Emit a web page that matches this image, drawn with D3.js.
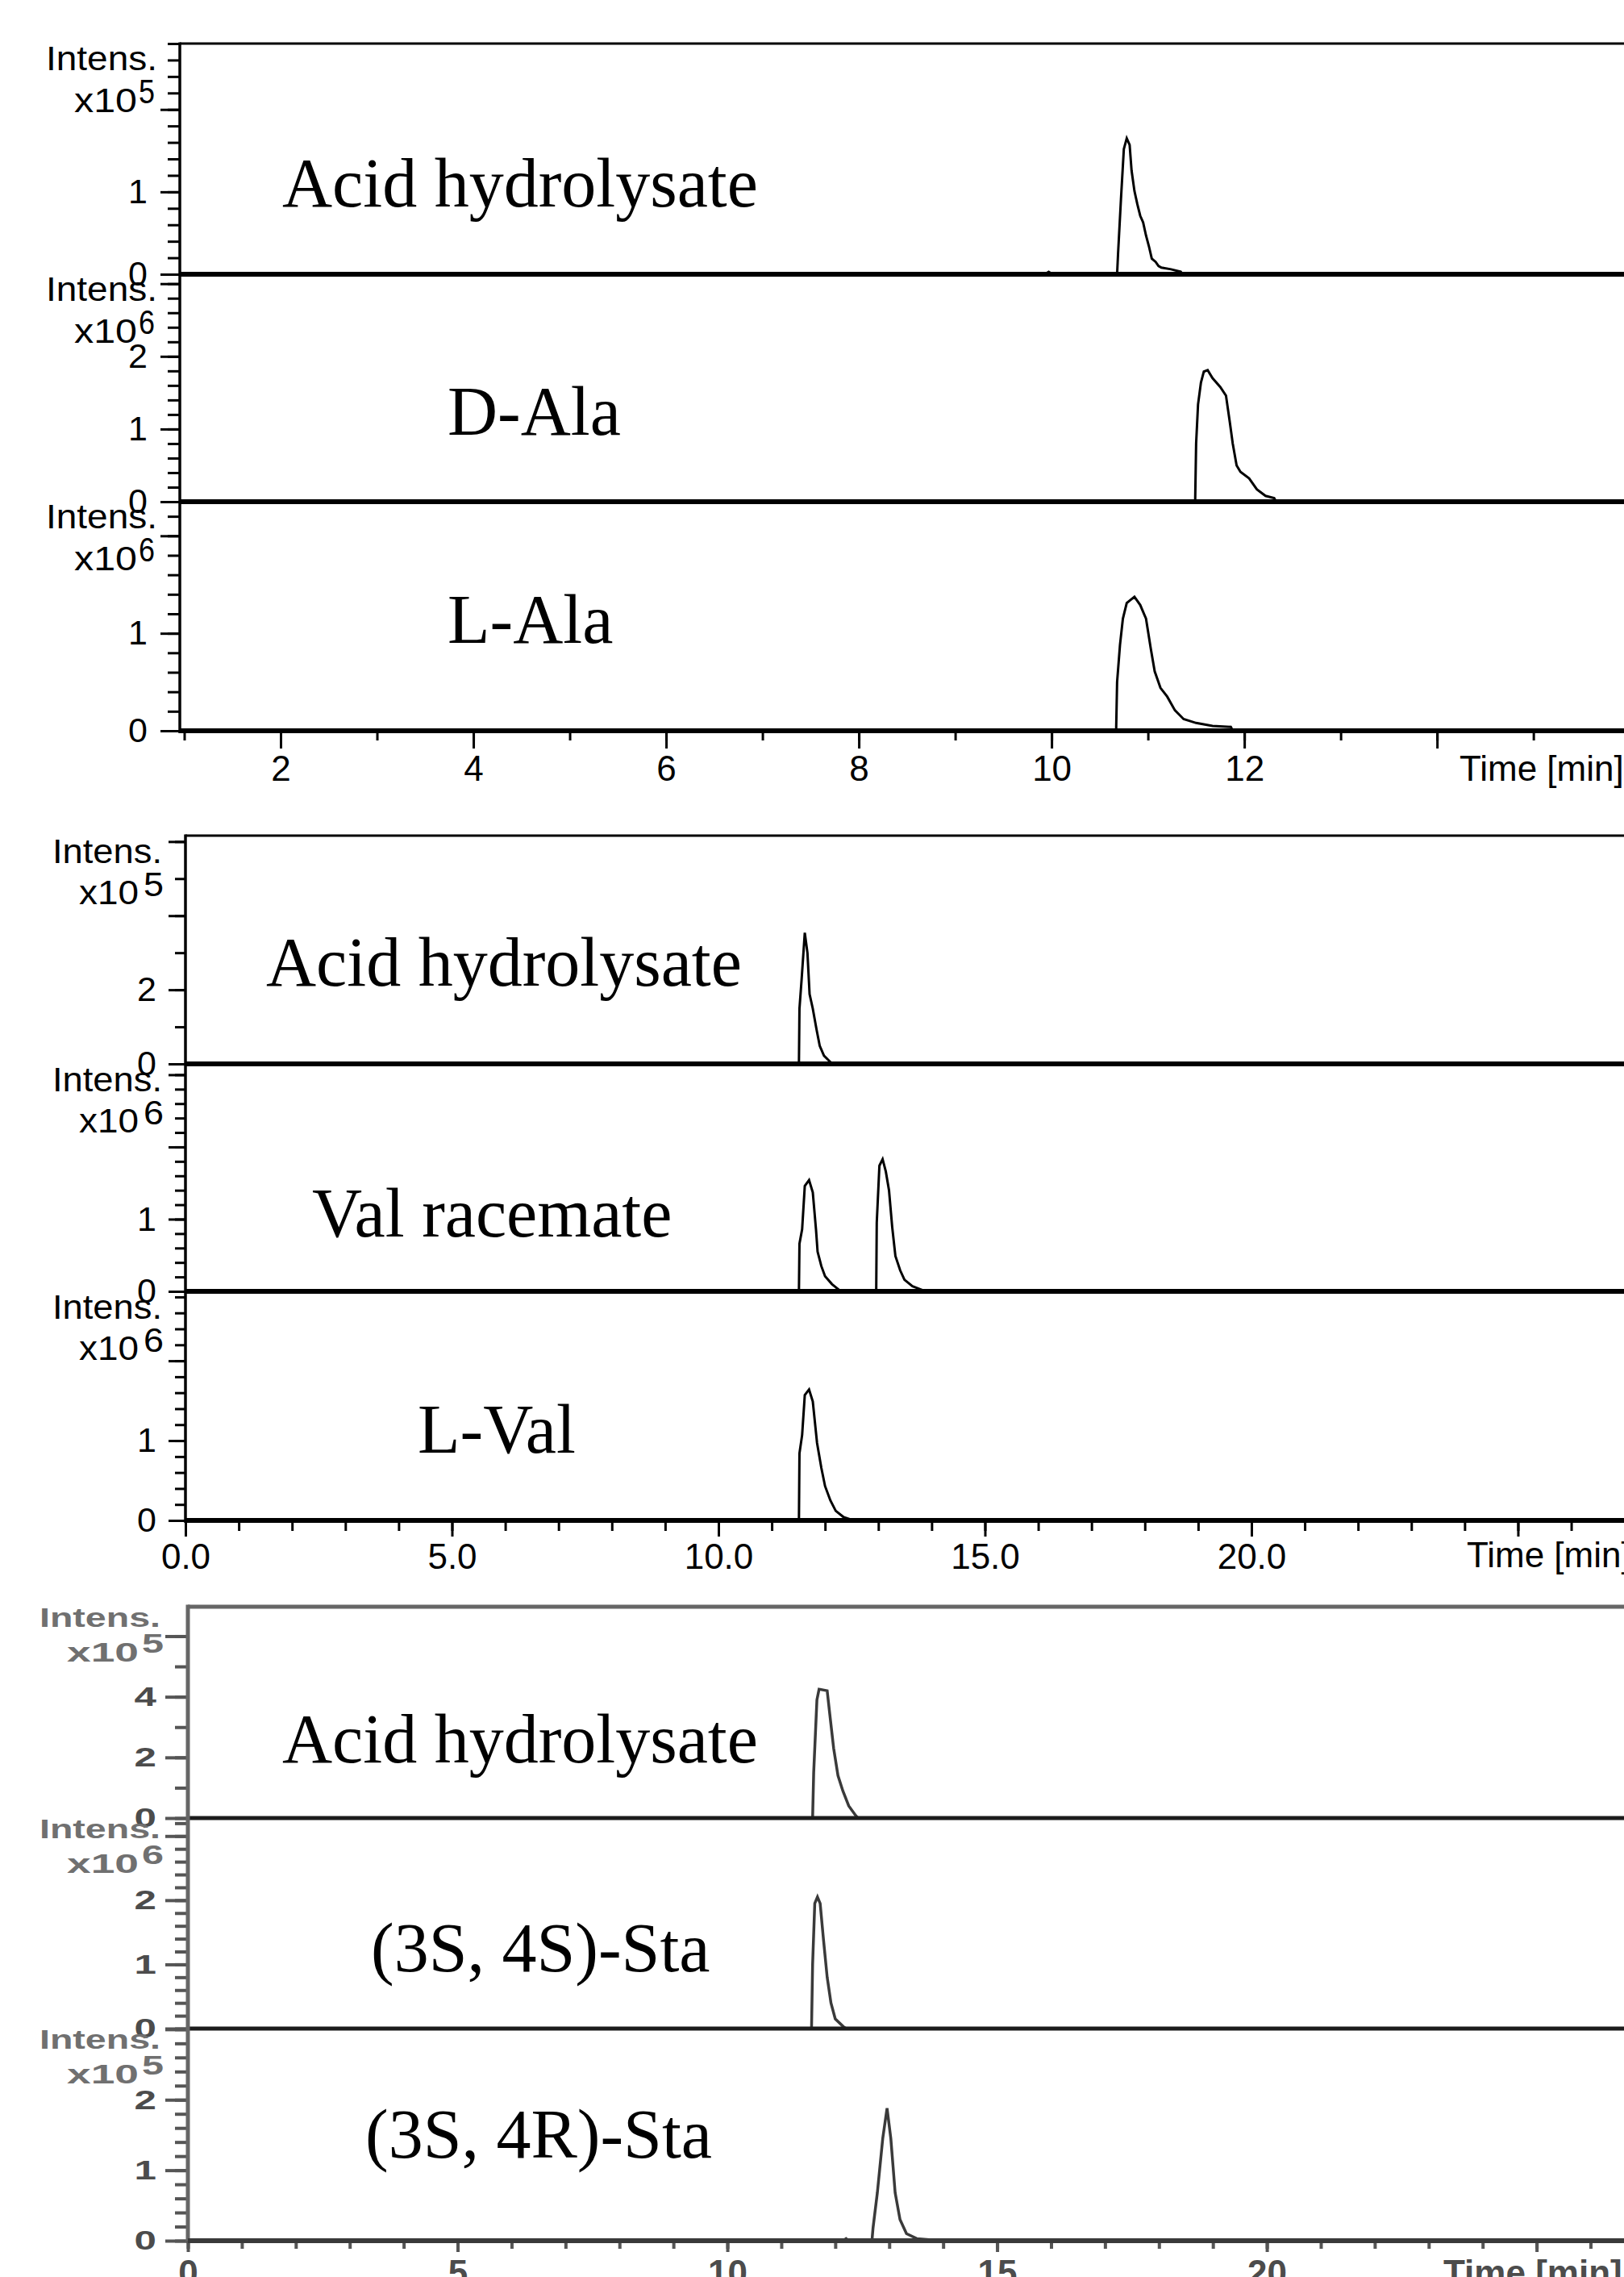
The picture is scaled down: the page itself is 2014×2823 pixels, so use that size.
<!DOCTYPE html>
<html><head><meta charset="utf-8">
<script src="https://cdn.jsdelivr.net/npm/d3@7"></script>
<style>
html,body{margin:0;padding:0;background:#fff;}
svg{display:block;}
</style></head><body>
<script>
// ================= DATA =================
const sampleNames = [
  ["Acid hydrolysate", "D-Ala", "L-Ala"],
  ["Acid hydrolysate", "Val racemate", "L-Val"],
  ["Acid hydrolysate", "(3S, 4S)-Sta", "(3S, 4R)-Sta"]
];
const intensityExponents = [[5, 6, 6], [5, 6, 6], [5, 6, 5]];
const yDomainMax = [[2.80, 3.13, 2.35], [6.16, 3.15, 2.87], [6.97, 3.28, 3.01]];
const yMajorStep = [[1, 1, 1], [2, 1, 1], [2, 1, 1]];
const yMinorStep = [[0.2, 0.2, 0.2], [1, 0.2, 0.2], [1, 0.2, 0.2]];
const yTickLabels = [[[0, 1], [0, 1, 2], [0, 1]], [[0, 2], [0, 1], [0, 1]], [[0, 2, 4], [0, 1, 2], [0, 1, 2]]];
const xDomains = [[0.954, 15.94], [0, 26.99], [0, 26.62]];
const xMajorTicks = [[2, 4, 6, 8, 10, 12, 14], [0, 5, 10, 15, 20, 25], [0, 5, 10, 15, 20, 25]];
const xTickLabels = [["2", "4", "6", "8", "10", "12", ""], ["0.0", "5.0", "10.0", "15.0", "20.0", ""], ["0", "5", "10", "15", "20", ""]];
const xAxisTitle = "Time [min]";
const yAxisTitle = "Intens.";

// time [min], intensity (in units of 10^exponent)
const alaAcid = [[0.954,0],[9.93,0],[9.97,0.03],[10.01,0],[10.68,0],[10.69,0.25],[10.72,0.91],[10.75,1.52],[10.78,1.65],[10.81,1.57],[10.83,1.26],[10.86,1.01],[10.89,0.85],[10.92,0.71],[10.95,0.63],[10.98,0.47],[11.01,0.34],[11.04,0.19],[11.08,0.15],[11.11,0.10],[11.14,0.08],[11.24,0.06],[11.34,0.03],[11.36,0],[15.94,0]];
const dAla = [[0.954,0],[11.49,0],[11.50,0.80],[11.52,1.34],[11.55,1.64],[11.58,1.79],[11.62,1.81],[11.67,1.70],[11.75,1.58],[11.81,1.46],[11.85,1.09],[11.88,0.80],[11.92,0.50],[11.96,0.41],[12.05,0.32],[12.13,0.17],[12.22,0.08],[12.31,0.05],[12.33,0],[15.94,0]];
const lAla = [[0.954,0],[10.67,0],[10.68,0.50],[10.71,0.88],[10.74,1.15],[10.78,1.31],[10.86,1.375],[10.92,1.29],[10.98,1.15],[11.03,0.84],[11.07,0.61],[11.13,0.44],[11.20,0.35],[11.28,0.21],[11.37,0.12],[11.50,0.08],[11.67,0.05],[11.86,0.04],[11.88,0],[15.94,0]];
const valAcid = [[0,0],[11.51,0],[11.52,1.49],[11.56,2.27],[11.62,3.54],[11.67,2.99],[11.71,1.88],[11.77,1.49],[11.84,0.93],[11.90,0.49],[11.98,0.22],[12.10,0.05],[12.15,0],[26.99,0]];
const valRacemate = [[0,0],[11.51,0],[11.52,0.66],[11.57,0.86],[11.62,1.46],[11.70,1.54],[11.77,1.37],[11.83,0.86],[11.86,0.55],[11.93,0.35],[12.00,0.21],[12.13,0.10],[12.28,0.01],[12.96,0],[12.97,0.95],[13.02,1.74],[13.08,1.83],[13.14,1.66],[13.20,1.40],[13.26,0.89],[13.32,0.49],[13.41,0.29],[13.49,0.16],[13.64,0.07],[13.82,0.02],[13.85,0],[26.99,0]];
const lVal = [[0,0],[11.51,0],[11.52,0.84],[11.57,1.07],[11.62,1.57],[11.70,1.64],[11.77,1.49],[11.85,0.97],[11.93,0.66],[12.00,0.43],[12.10,0.25],[12.20,0.12],[12.35,0.04],[12.53,0],[26.99,0]];
const staAcid = [[0,0],[11.58,0],[11.60,1.5],[11.66,3.9],[11.70,4.25],[11.85,4.2],[11.90,3.4],[11.97,2.3],[12.05,1.4],[12.14,0.9],[12.25,0.4],[12.38,0.08],[12.42,0],[26.62,0]];
const sta3S4S = [[0,0],[11.56,0],[11.58,1.0],[11.62,1.95],[11.67,2.05],[11.72,1.95],[11.78,1.4],[11.85,0.8],[11.92,0.4],[12.00,0.15],[12.15,0.03],[12.20,0],[26.62,0]];
const sta3S4R = [[0,0],[12.15,0],[12.20,0.03],[12.25,0],[12.68,0],[12.70,0.18],[12.78,0.68],[12.88,1.45],[12.96,1.88],[13.03,1.45],[13.11,0.68],[13.20,0.30],[13.32,0.10],[13.51,0.03],[13.83,0.01],[13.90,0],[26.62,0]];

const series = [[alaAcid, dAla, lAla], [valAcid, valRacemate, lVal], [staAcid, sta3S4S, sta3S4R]];

// ================= LAYOUT / STYLE =================
const W = 2014, H = 2823;
const layout = [
  {left:223, top:54, bases:[340,622,906], labelPos:[[350,256],[555,539],[555,797]], titleX:1810, titleDy:62,
   xMajorLen:22, xMinorLen:12, xPad:9, yMajorLen:24, yMinorLen:15, yPad:16,
   intens:[-166,138,33], x10:[-131,78,85], exp:[-51,20,74], font:43, bold:false, yScaleX:1},
  {left:230, top:1036, bases:[1319,1601,1885], labelPos:[[330,1222],[387,1533],[518,1801]], titleX:1819, titleDy:58,
   xMajorLen:20, xMinorLen:13, xPad:9, yMajorLen:21, yMinorLen:13, yPad:15,
   intens:[-165,136,34], x10:[-132,74,85], exp:[-52,25,75], font:43, bold:false, yScaleX:1},
  {left:233, top:1992, bases:[2254,2515,2778], labelPos:[[350,2185],[460,2444],[453,2675]], titleX:1790, titleDy:55,
   xMajorLen:14, xMinorLen:10, xPad:10, yMajorLen:28, yMinorLen:16, yPad:11,
   intens:[-184,150,25], x10:[-150,89,68], exp:[-57,27,57], font:34, bold:true, yScaleX:1.45}
];
const styles = [
  {frame:"#000", frameW:3, axisW:3.5, base:"#000", baseW:6, bottom:"#000", bottomW:6, tick:"#000", tickW:3, text:"#000", tickText:"#000", line:"#000", lineW:3},
  {frame:"#000", frameW:3, axisW:3.5, base:"#000", baseW:6, bottom:"#000", bottomW:6, tick:"#000", tickW:3, text:"#000", tickText:"#000", line:"#000", lineW:3},
  {frame:"#666", frameW:5, axisW:5, base:"#1c1c1c", baseW:5, bottom:"#3a3a3a", bottomW:6, tick:"#555", tickW:4, text:"#707070", tickText:"#4c4c4c", line:"#3a3a3a", lineW:3.5}
];
const sansFont = "'Liberation Sans', Arial, sans-serif";
const serifFont = "'Liberation Serif', 'Times New Roman', serif";

const svg = d3.select("body").append("svg")
  .attr("width", W).attr("height", H)
  .attr("viewBox", `0 0 ${W} ${H}`);
svg.append("rect").attr("width", W).attr("height", H).attr("fill", "#fff");

function rng(max, step) {
  const n = Math.floor(max / step + 1e-6);
  return d3.range(0, n + 1).map(i => +(i * step).toFixed(6));
}

layout.forEach((L, p) => {
  const st = styles[p];
  const g = svg.append("g").attr("class", "panel");
  const x = d3.scaleLinear().domain(xDomains[p]).range([L.left, W]);
  const fw = L.bold ? "bold" : "normal";

  for (let s = 0; s < 3; s++) {
    const topY = s === 0 ? L.top : L.bases[s - 1];
    const baseY = L.bases[s];
    const y = d3.scaleLinear().domain([0, yDomainMax[p][s]]).range([baseY, topY]);
    const sg = g.append("g");

    // minor y ticks
    sg.append("g").attr("transform", `translate(${L.left},0)`)
      .call(d3.axisLeft(y).tickValues(rng(yDomainMax[p][s], yMinorStep[p][s])).tickSize(L.yMinorLen).tickFormat(""))
      .call(a => a.select(".domain").remove())
      .call(a => a.selectAll("line").attr("stroke", st.tick).attr("stroke-width", st.tickW));

    // major y ticks + labels
    const labs = yTickLabels[p][s];
    const ya = sg.append("g").attr("transform", `translate(${L.left},0)`)
      .call(d3.axisLeft(y).tickValues(rng(yDomainMax[p][s], yMajorStep[p][s])).tickSize(L.yMajorLen)
        .tickPadding(L.yPad).tickFormat(d => labs.includes(d) ? String(d) : ""))
      .call(a => a.select(".domain").remove());
    ya.selectAll("line").attr("stroke", st.tick).attr("stroke-width", st.tickW);
    ya.selectAll("text").attr("fill", st.tickText).attr("font-family", sansFont)
      .attr("font-size", L.font).attr("font-weight", fw);
    if (L.yScaleX !== 1) {
      ya.selectAll("text").attr("x", -(L.yMajorLen + L.yPad) / L.yScaleX)
        .attr("transform", `scale(${L.yScaleX},1)`);
    }

    // chromatogram trace
    const line = d3.line().x(d => x(d[0])).y(d => y(d[1]));
    sg.append("path").datum(series[p][s]).attr("d", line)
      .attr("fill", "none").attr("stroke", st.line).attr("stroke-width", st.lineW)
      .attr("stroke-linejoin", "miter");

    // sample label
    sg.append("text").attr("x", L.labelPos[s][0]).attr("y", L.labelPos[s][1])
      .attr("font-family", serifFont).attr("font-size", 86).attr("fill", "#000")
      .text(sampleNames[p][s]);

    // y-axis title "Intens." and x10^n
    sg.append("text").attr("x", L.left + L.intens[0]).attr("y", topY + L.intens[2])
      .attr("textLength", L.intens[1]).attr("lengthAdjust", "spacingAndGlyphs")
      .attr("font-family", sansFont).attr("font-size", L.font).attr("font-weight", fw)
      .attr("fill", st.text).text(yAxisTitle);
    sg.append("text").attr("x", L.left + L.x10[0]).attr("y", topY + L.x10[2])
      .attr("textLength", L.x10[1]).attr("lengthAdjust", "spacingAndGlyphs")
      .attr("font-family", sansFont).attr("font-size", L.font).attr("font-weight", fw)
      .attr("fill", st.text).text("x10");
    sg.append("text").attr("x", L.left + L.exp[0]).attr("y", topY + L.exp[2])
      .attr("textLength", L.exp[1]).attr("lengthAdjust", "spacingAndGlyphs")
      .attr("font-family", sansFont).attr("font-size", L.font).attr("font-weight", fw)
      .attr("fill", st.text).text(String(intensityExponents[p][s]));

    // baseline / separator
    if (s < 2) {
      sg.append("line").attr("x1", L.left).attr("x2", W).attr("y1", baseY).attr("y2", baseY)
        .attr("stroke", st.base).attr("stroke-width", st.baseW);
    }
  }

  // frame: top border, left axis
  g.append("line").attr("x1", L.left).attr("x2", W).attr("y1", L.top).attr("y2", L.top)
    .attr("stroke", st.frame).attr("stroke-width", st.frameW);
  g.append("line").attr("x1", L.left).attr("x2", L.left).attr("y1", L.top - st.frameW / 2).attr("y2", L.bases[2] + 3)
    .attr("stroke", st.frame).attr("stroke-width", st.axisW);

  // x axis
  const axisY = L.bases[2];
  const minorVals = d3.range(Math.ceil(xDomains[p][0]), xDomains[p][1], 1);
  g.append("g").attr("transform", `translate(0,${axisY})`)
    .call(d3.axisBottom(x).tickValues(minorVals).tickSize(L.xMinorLen).tickFormat(""))
    .call(a => a.select(".domain").remove())
    .call(a => a.selectAll("line").attr("stroke", st.tick).attr("stroke-width", st.tickW));
  const xa = g.append("g").attr("transform", `translate(0,${axisY})`)
    .call(d3.axisBottom(x).tickValues(xMajorTicks[p]).tickSize(L.xMajorLen).tickPadding(L.xPad)
      .tickFormat((d, i) => xTickLabels[p][i]))
    .call(a => a.select(".domain").remove());
  xa.selectAll("line").attr("stroke", st.tick).attr("stroke-width", st.tickW);
  xa.selectAll("text").attr("fill", st.tickText).attr("font-family", sansFont)
    .attr("font-size", 44).attr("font-weight", fw);
  g.append("line").attr("x1", L.left).attr("x2", W).attr("y1", axisY).attr("y2", axisY)
    .attr("stroke", st.bottom).attr("stroke-width", st.bottomW);
  g.append("text").attr("x", L.titleX).attr("y", axisY + L.titleDy)
    .attr("font-family", sansFont).attr("font-size", 44).attr("font-weight", fw)
    .attr("fill", st.tickText).text(xAxisTitle);
});
</script>
</body></html>
